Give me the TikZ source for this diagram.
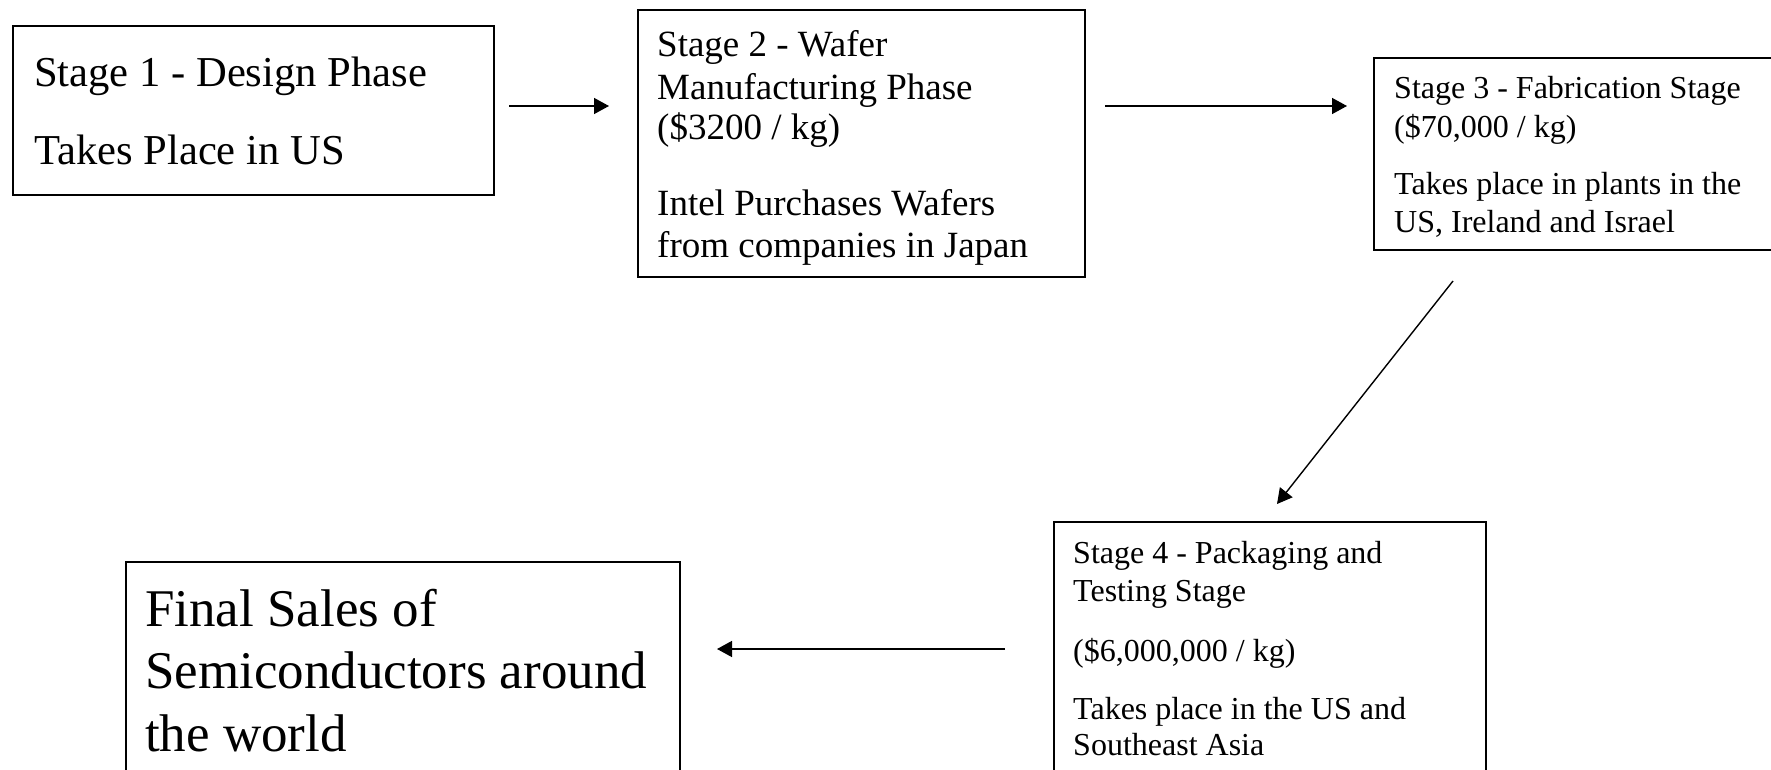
\documentclass[tikz,border=0pt]{standalone}
\usepackage{fontspec}
\setmainfont{Liberation Serif}
\usetikzlibrary{arrows.meta}
\begin{document}
\begin{tikzpicture}[x=1pt,y=-1pt,
  box/.style={draw=black, line width=2pt, inner sep=0pt, anchor=north west},
  lbl/.style={anchor=base west, inner sep=0pt, text=black},
  arr/.style={line width=1.4pt, -{Triangle[length=15pt,width=16pt]}},
  fA/.style={font=\fontsize{42.6}{50}\selectfont},
  fB/.style={font=\fontsize{37}{44}\selectfont},
  fC/.style={font=\fontsize{32}{38}\selectfont},
  fE/.style={font=\fontsize{53}{62}\selectfont}
]
\useasboundingbox (0,0) rectangle (1771,770);
\clip (0,0) rectangle (1771,770);
\fill[white] (0,0) rectangle (1771,770);

% boxes
\node[box, minimum width=481, minimum height=169] (b1) at (12,25) {};
\node[box, minimum width=447, minimum height=267] (b2) at (637,9) {};
\node[box, minimum width=420, minimum height=192] (b3) at (1373,57) {};
\node[box, minimum width=432, minimum height=270] (b4) at (1053,521) {};
\node[box, line width=1.6pt, minimum width=554, minimum height=230] (b5) at (125,561) {};

% box 1 text
\node[lbl, fA] (t1a) at (34,87) {Stage 1 - Design Phase};
\node[lbl, fA] (t1b) at (34,165) {Takes Place in US};

% box 2 text
\node[lbl, fB] (t2a) at (657,57) {Stage 2 - Wafer};
\node[lbl, fB] (t2b) at (657,100) {Manufacturing Phase};
\node[lbl, fB] (t2c) at (657,140) {(\$3200 / kg)};
\node[lbl, fB] (t2d) at (657,215) {Intel Purchases Wafers};
\node[lbl, fB] (t2e) at (657,257) {from companies in Japan};

% box 3 text
\node[lbl, fC] (t3a) at (1394,99) {Stage 3 - Fabrication Stage};
\node[lbl, fC] (t3b) at (1394,138) {(\$70,000 / kg)};
\node[lbl, fC] (t3c) at (1394,194) {Takes place in plants in the};
\node[lbl, fC] (t3d) at (1394,233) {US, Ireland and Israel};

% box 4 text
\node[lbl, fC] (t4a) at (1073,563) {Stage 4 - Packaging and};
\node[lbl, fC] (t4b) at (1073,601) {Testing Stage};
\node[lbl, fC] (t4c) at (1073,661) {(\$6,000,000 / kg)};
\node[lbl, fC] (t4d) at (1073,719) {Takes place in the US and};
\node[lbl, fC] (t4e) at (1073,755) {Southeast Asia};

% box 5 text
\node[lbl, fE] (t5a) at (145,626) {Final Sales of};
\node[lbl, fE] (t5b) at (145,688) {Semiconductors around};
\node[lbl, fE] (t5c) at (145,751) {the world};

% connector end points
\coordinate (a1s) at (509,106);
\coordinate (a1e) at (609,106);
\coordinate (a2s) at (1105,106);
\coordinate (a2e) at (1347,106);
\coordinate (a3s) at (1453,281);
\coordinate (a3e) at (1277,504);
\coordinate (a4s) at (1005,649);
\coordinate (a4e) at (717,649);

\draw[arr] (a1s) -- (a1e);
\draw[arr] (a2s) -- (a2e);
\draw[arr] (a3s) -- (a3e);
\draw[arr] (a4s) -- (a4e);
\end{tikzpicture}
\end{document}
